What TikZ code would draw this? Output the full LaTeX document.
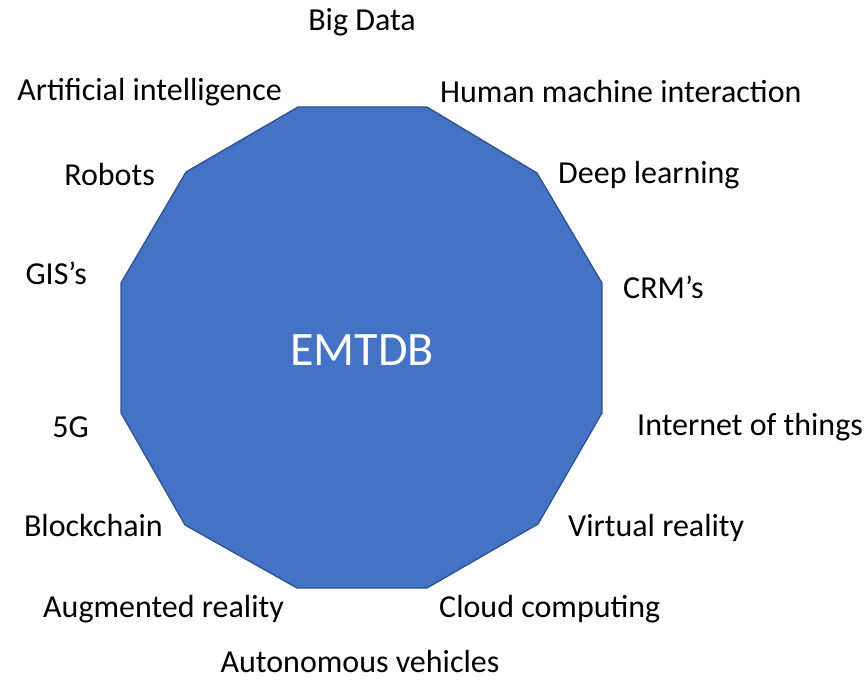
\documentclass[tikz,border=0pt]{standalone}
\usepackage{fontspec}
\setmainfont{Carlito}
\definecolor{polyfill}{HTML}{4472C4}
\definecolor{polyline}{HTML}{2F528F}
\begin{document}
\begin{tikzpicture}[x=1pt,y=-1pt,
  lbl/.style={inner sep=0pt,font=\fontsize{32}{38}\selectfont,text=black},
  poly/.style={fill=polyfill,draw=polyline,line width=1.3pt,line join=miter}]
\useasboundingbox (0,0) rectangle (866,679);
\coordinate (v1) at (298,107);
\coordinate (v2) at (427,107);
\coordinate (v3) at (537,173);
\coordinate (v4) at (602,283);
\coordinate (v5) at (602,413);
\coordinate (v6) at (538,524);
\coordinate (v7) at (427,588);
\coordinate (v8) at (297,588);
\coordinate (v9) at (185,525);
\coordinate (v10) at (121,413);
\coordinate (v11) at (121,283);
\coordinate (v12) at (186,172);
\draw[poly] (v1)--(v2)--(v3)--(v4)--(v5)--(v6)--(v7)--(v8)--(v9)--(v10)--(v11)--(v12)--cycle;
\node[inner sep=0pt,text=white,font=\fontsize{48}{56}\selectfont] (c) at (362,350) {EMTDB};
\node[lbl] (bd) at (362,22) {Big Data};
\node[lbl,anchor=east] (ai) at (282,92) {Artificial intelligence};
\node[lbl,anchor=west] (hmi) at (440,92) {Human machine interaction};
\node[lbl,anchor=east] (rob) at (155,175) {Robots};
\node[lbl,anchor=west] (dl) at (558,175) {Deep learning};
\node[lbl,anchor=east] (gis) at (87,273) {GIS’s};
\node[lbl,anchor=west] (crm) at (623,287) {CRM’s};
\node[lbl,anchor=east] (fg) at (89,427) {5G};
\node[lbl,anchor=west] (iot) at (637,427) {Internet of things};
\node[lbl,anchor=east] (bc) at (163,526) {Blockchain};
\node[lbl,anchor=west] (vr) at (568,528) {Virtual reality};
\node[lbl,anchor=east] (ar) at (284,609) {Augmented reality};
\node[lbl,anchor=west] (cc) at (439,609) {Cloud computing};
\node[lbl] (av) at (360,661) {Autonomous vehicles};
\end{tikzpicture}
\end{document}
